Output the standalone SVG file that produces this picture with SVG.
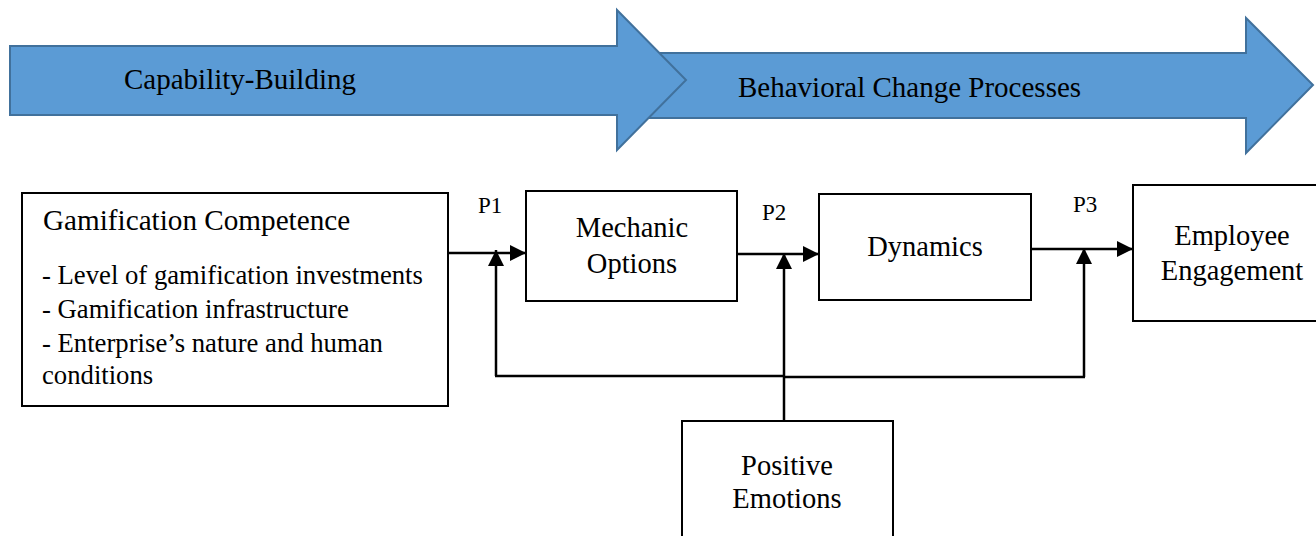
<svg xmlns="http://www.w3.org/2000/svg" width="1316" height="536" viewBox="0 0 1316 536">
<style>
text{font-family:"Liberation Serif","Times New Roman",serif;fill:#000}
.band{fill:#5B9BD5;stroke:#41719C;stroke-width:2}
.box{fill:#fff;stroke:#000;stroke-width:2}
.lbl{font-size:28.5px;text-anchor:middle}
.p{font-size:23px}
.conn{fill:none;stroke:#000;stroke-width:2.5}
</style>
<defs>
<marker id="ah" markerUnits="userSpaceOnUse" markerWidth="16" markerHeight="16" refX="16" refY="8" orient="auto">
<path d="M0,0 L16,8 L0,16 z" fill="#000"/>
</marker>
</defs>
<rect width="1316" height="536" fill="#fff"/>
<g id="band-behavioral">
<polygon class="band" points="640,53 1246,53 1246,18 1313,85 1246,153 1246,118 640,118"/>
<text x="738" y="97" font-size="29">Behavioral Change Processes</text>
</g>
<g id="band-capability">
<polygon class="band" points="10,46 617,46 617,10 686,80 617,150 617,115 10,115"/>
<text x="124" y="89" font-size="29">Capability-Building</text>
</g>
<g id="gamification">
<rect class="box" x="22" y="193" width="426" height="213"/>
<text x="43" y="230" font-size="29.2">Gamification Competence</text>
<text x="42" y="284" font-size="26.7">- Level of gamification investments</text>
<text x="42" y="318" font-size="26.7">- Gamification infrastructure</text>
<text x="42" y="352" font-size="26.7">- Enterprise’s nature and human</text>
<text x="42" y="384" font-size="26.7">conditions</text>
</g>
<g id="mechanic">
<rect class="box" x="526" y="191" width="211" height="110"/>
<text class="lbl" x="632" y="237">Mechanic</text>
<text class="lbl" x="632" y="273">Options</text>
</g>
<g id="dynamics">
<rect class="box" x="819" y="194" width="212" height="106"/>
<text class="lbl" x="925" y="256">Dynamics</text>
</g>
<g id="engagement">
<rect class="box" x="1133" y="185" width="190" height="136"/>
<text class="lbl" x="1232" y="245">Employee</text>
<text class="lbl" x="1232" y="280">Engagement</text>
</g>
<g id="emotions">
<rect class="box" x="682" y="421" width="211" height="130"/>
<text class="lbl" x="787" y="475">Positive</text>
<text class="lbl" x="787" y="508">Emotions</text>
</g>
<g id="labels">
<text class="p" x="478" y="213">P1</text>
<text class="p" x="762" y="220">P2</text>
<text class="p" x="1073" y="212">P3</text>
</g>
<g id="connectors">
<path class="conn" d="M448,253 H526" marker-end="url(#ah)"/>
<path class="conn" d="M737,254 H819" marker-end="url(#ah)"/>
<path class="conn" d="M1031,249 H1133" marker-end="url(#ah)"/>
<path class="conn" d="M496,376 V250" marker-end="url(#ah)"/>
<path class="conn" d="M784,421 V253" marker-end="url(#ah)"/>
<path class="conn" d="M1084,377 V248" marker-end="url(#ah)"/>
<path class="conn" d="M495,376 H784"/>
<path class="conn" d="M784,377 H1085"/>
</g>
</svg>
